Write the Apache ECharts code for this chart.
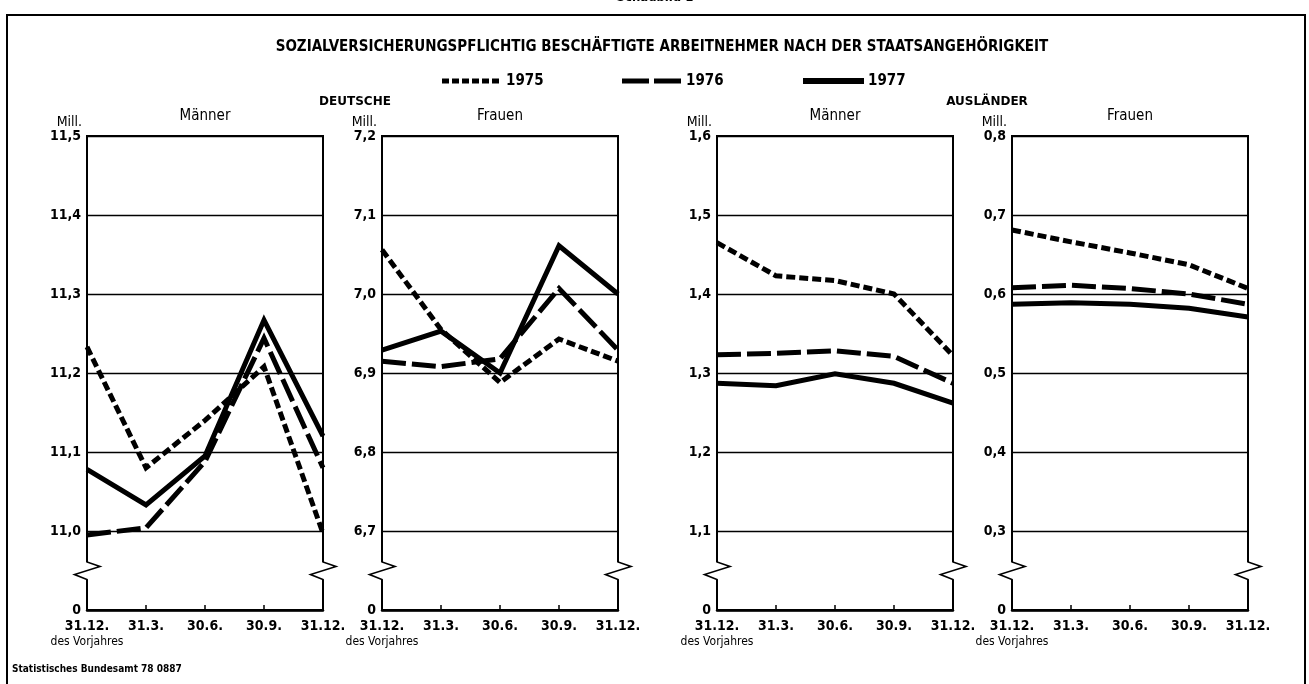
<!DOCTYPE html>
<html><head><meta charset="utf-8">
<script src="https://cdn.jsdelivr.net/npm/echarts@6/dist/echarts.min.js"></script>
<style>html,body{margin:0;padding:0;background:#fff}#c{width:1309px;height:684px}</style>
</head><body><div id="c"></div><script>
// ---- data ----
const categories = ['31.12.', '31.3.', '30.6.', '30.9.', '31.12.'];
const years = ['1975', '1976', '1977'];
const panelTitles = ['Männer', 'Frauen', 'Männer', 'Frauen'];
const groupTitles = ['DEUTSCHE', 'AUSLÄNDER'];
const yMin = [10.9, 6.6, 1.0, 0.2];   // shown as "0" (broken axis)
const yMax = [11.5, 7.2, 1.6, 0.8];
const deutscheMaenner1975 = [11.233, 11.08, 11.14, 11.208, 10.997];
const deutscheMaenner1976 = [10.995, 11.004, 11.088, 11.244, 11.08];
const deutscheMaenner1977 = [11.078, 11.033, 11.095, 11.267, 11.12];
const deutscheFrauen1975 = [7.056, 6.955, 6.888, 6.943, 6.915];
const deutscheFrauen1976 = [6.915, 6.908, 6.918, 7.007, 6.929];
const deutscheFrauen1977 = [6.929, 6.953, 6.900, 7.061, 7.000];
const auslaenderMaenner1975 = [1.465, 1.423, 1.417, 1.400, 1.322];
const auslaenderMaenner1976 = [1.323, 1.325, 1.328, 1.321, 1.287];
const auslaenderMaenner1977 = [1.287, 1.284, 1.299, 1.287, 1.262];
const auslaenderFrauen1975 = [0.681, 0.666, 0.652, 0.637, 0.607];
const auslaenderFrauen1976 = [0.608, 0.611, 0.607, 0.600, 0.587];
const auslaenderFrauen1977 = [0.587, 0.589, 0.587, 0.582, 0.571];
const titleText = 'SOZIALVERSICHERUNGSPFLICHTIG BESCHÄFTIGTE ARBEITNEHMER NACH DER STAATSANGEHÖRIGKEIT';
const sourceText = 'Statistisches Bundesamt 78 0887';

const panelData = [
  [deutscheMaenner1975, deutscheMaenner1976, deutscheMaenner1977],
  [deutscheFrauen1975, deutscheFrauen1976, deutscheFrauen1977],
  [auslaenderMaenner1975, auslaenderMaenner1976, auslaenderMaenner1977],
  [auslaenderFrauen1975, auslaenderFrauen1976, auslaenderFrauen1977]
];

// ---- styles / layout ----
const NARROW = "'Liberation Sans Narrow','DejaVu Sans Condensed','Roboto Condensed',sans-serif";
const WIDE = "'DejaVu Sans','Liberation Sans',sans-serif";
const gridLefts = [87, 382, 717, 1012];
const gridWidth = 236;
const gridTop = 136, gridHeight = 474;
const lineTypes = [[9, 4], [24, 6], 'solid'];
const lineWidth = 5;

const chart = echarts.init(document.getElementById('c'), null, {renderer: 'canvas'});

const grids = [], xAxes = [], yAxes = [], series = [];
for (let i = 0; i < 4; i++) {
  grids.push({left: gridLefts[i], top: gridTop, width: gridWidth, height: gridHeight,
    show: true, borderColor: '#000', borderWidth: 2, backgroundColor: 'transparent'});
  xAxes.push({
    type: 'category', gridIndex: i, data: categories, boundaryGap: false,
    axisLine: {lineStyle: {color: '#000', width: 2.5}},
    axisTick: {inside: true, length: 5, lineStyle: {color: '#000', width: 1.5}},
    axisLabel: {
      color: '#000', margin: 8, interval: 0,
      formatter: (v, idx) => idx === 0 ? '{a|' + v + '}\n{s|des Vorjahres}' : '{a|' + v + '}',
      rich: {
        a: {fontFamily: NARROW, fontSize: 14, fontWeight: 'bold', color: '#000', lineHeight: 17},
        s: {fontFamily: NARROW, fontSize: 12, color: '#000', lineHeight: 14}
      }
    }
  });
  const mn = yMin[i];
  yAxes.push({
    type: 'value', gridIndex: i, min: mn, max: yMax[i], interval: 0.1,
    name: 'Mill.', nameLocation: 'end', nameGap: 5,
    nameTextStyle: {fontFamily: NARROW, fontSize: 14, color: '#000', align: 'right', padding: [0, 5, 0, 0]},
    axisLine: {show: true, lineStyle: {color: '#000', width: 2}},
    axisTick: {show: false},
    splitLine: {show: true, lineStyle: {color: '#000', width: 1.3}},
    axisLabel: {
      color: '#000', fontFamily: NARROW, fontSize: 14, fontWeight: 'bold', margin: 6,
      formatter: v => Math.abs(v - mn) < 1e-6 ? '0' : v.toFixed(1).replace('.', ',')
    }
  });
  for (let k = 0; k < 3; k++) {
    series.push({
      type: 'line', name: years[k], xAxisIndex: i, yAxisIndex: i,
      data: panelData[i][k], symbol: 'none', smooth: false, silent: true,
      lineStyle: {color: '#000', width: lineWidth, type: lineTypes[k], cap: 'butt', join: 'miter'},
      z: 3 + k
    });
  }
}

chart.setOption({
  animation: false,
  backgroundColor: '#fff',
  grid: grids, xAxis: xAxes, yAxis: yAxes, series: series
});

// ---- decorations: text, legend, frame, axis breaks ----
const g = [];
g.push({type: 'rect', shape: {x: 7, y: 15, width: 1298, height: 720}, style: {fill: 'none', stroke: '#000', lineWidth: 2}, z: 1, silent: true});
g.push({type: 'text', x: 655, y: -9, style: {text: 'Schaubild 1', font: "bold 13px " + NARROW, fill: '#000', textAlign: 'center', textVerticalAlign: 'top'}, z: 0});
g.push({type: 'text', x: 662, y: 47, style: {text: titleText, font: "bold 15px " + NARROW, fill: '#000', textAlign: 'center', textVerticalAlign: 'middle'}});
g.push({type: 'text', x: 355, y: 102, style: {text: groupTitles[0], font: "bold 12px " + WIDE, fill: '#000', textAlign: 'center', textVerticalAlign: 'middle'}});
g.push({type: 'text', x: 987, y: 102, style: {text: groupTitles[1], font: "bold 12px " + WIDE, fill: '#000', textAlign: 'center', textVerticalAlign: 'middle'}});
for (let i = 0; i < 4; i++) {
  g.push({type: 'text', x: gridLefts[i] + gridWidth / 2, y: 116, style: {text: panelTitles[i], font: "15px " + NARROW, fill: '#000', textAlign: 'center', textVerticalAlign: 'middle'}});
}
g.push({type: 'text', x: 12, y: 669, style: {text: sourceText, font: "bold 10px " + NARROW, fill: '#000', textAlign: 'left', textVerticalAlign: 'middle'}});

// legend
const legendItems = [
  {x1: 442, x2: 502, tx: 506, dash: [7, 3], w: 5},
  {x1: 622, x2: 682, tx: 686, dash: [27, 5], w: 5},
  {x1: 803, x2: 864, tx: 868, dash: null, w: 6}
];
legendItems.forEach((it, k) => {
  g.push({type: 'line', shape: {x1: it.x1, y1: 81, x2: it.x2, y2: 81},
    style: {stroke: '#000', lineWidth: it.w, lineDash: it.dash, lineCap: 'butt'}});
  g.push({type: 'text', x: it.tx, y: 81, style: {text: years[k], font: "bold 15px " + NARROW, fill: '#000', textAlign: 'left', textVerticalAlign: 'middle'}});
});

// axis break zigzags on both verticals of each panel
for (let i = 0; i < 4; i++) {
  const p = chart.convertToPixel({gridIndex: i}, [0, yMin[i] + 0.05]);
  const cy = p[1];
  [gridLefts[i], gridLefts[i] + gridWidth].forEach(cx => {
    g.push({type: 'rect', shape: {x: cx - 3, y: cy - 8.5, width: 6, height: 17.5}, style: {fill: '#fff'}, z: 10});
    g.push({type: 'polyline', shape: {points: [[cx, cy - 10], [cx, cy - 8.5], [cx + 13, cy - 4], [cx - 12.5, cy + 4], [cx, cy + 9], [cx, cy + 10]]},
      style: {stroke: '#000', lineWidth: 1.6, fill: 'none'}, z: 11});
  });
}
chart.setOption({graphic: {elements: g}});
</script></body></html>
